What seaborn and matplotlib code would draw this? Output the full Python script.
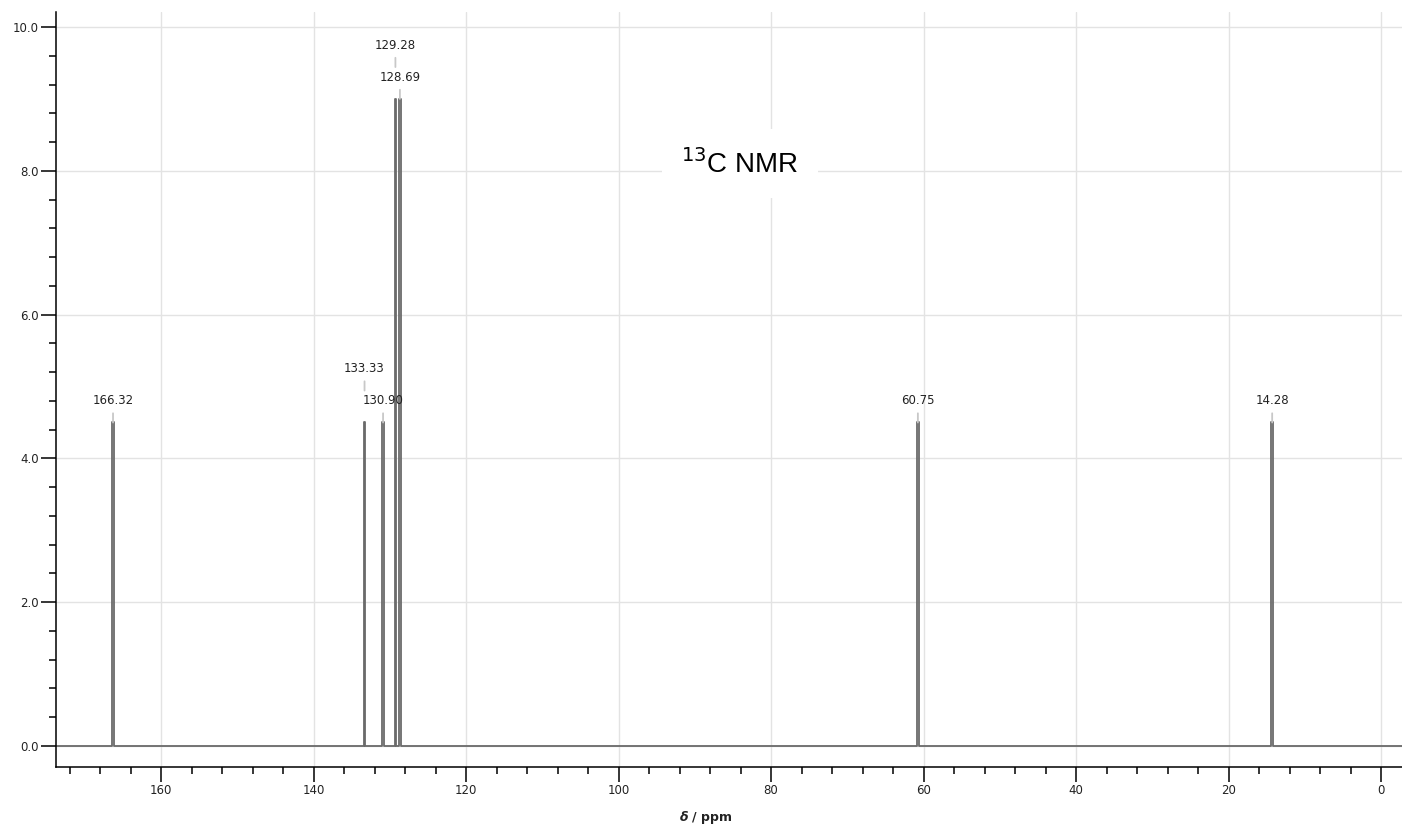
import numpy as np
import pandas as pd
import matplotlib
matplotlib.use("Agg")
import matplotlib.pyplot as plt
from matplotlib.ticker import MultipleLocator, FormatStrFormatter
import seaborn as sns

# ---- data ----
peak_ppm = [166.32, 133.33, 130.90, 129.28, 128.69, 60.75, 14.28]
peak_intensity = [4.5, 4.5, 4.5, 9.0, 9.0, 4.5, 4.5]
peak_labels = ["166.32", "133.33", "130.90", "129.28", "128.69", "60.75", "14.28"]
title_text = r"$^{13}$C NMR"

sns.set_theme(style="white")
plt.rcParams['font.family'] = ['DejaVu Sans']

# build stick-like trace (narrow flat-topped peaks) from the peak list
half_w = 0.12
xs = [175.0]
ys = [0.0]
for p, h in sorted(zip(peak_ppm, peak_intensity), key=lambda t: -t[0]):
    xs += [p + half_w, p + half_w, p - half_w, p - half_w]
    ys += [0.0, h, h, 0.0]
xs.append(-3.0)
ys.append(0.0)
df = pd.DataFrame({"ppm": xs, "I": ys})

fig = plt.figure(figsize=(14.02, 8.27), dpi=100)
ax = fig.add_axes([56/1402, 1-767/827, 1-56/1402, (767-12)/827])

ax.grid(True, which="major", color="#e3e3e3", lw=1.0)
ax.set_axisbelow(True)

sns.lineplot(data=df, x="ppm", y="I", sort=False, estimator=None,
             color="#6a6a6a", lw=1.3, ax=ax)

ax.set_xlim(173.8, -2.75)
ax.set_ylim(-0.292, 10.21)

ax.xaxis.set_major_locator(MultipleLocator(20))
ax.xaxis.set_minor_locator(MultipleLocator(4))
ax.yaxis.set_major_locator(MultipleLocator(2))
ax.yaxis.set_minor_locator(MultipleLocator(0.4))
ax.yaxis.set_major_formatter(FormatStrFormatter("%.1f"))
ax.xaxis.set_major_formatter(FormatStrFormatter("%d"))

for s in ["top", "right"]:
    ax.spines[s].set_visible(False)
for s in ["left", "bottom"]:
    ax.spines[s].set_color("black")
    ax.spines[s].set_linewidth(1.1)

ax.tick_params(axis="both", which="major", length=10.5, width=1.1, color="black",
               labelsize=8.5, labelcolor="#222222", direction="out", pad=2)
ax.tick_params(axis="both", which="minor", length=5, width=1.1, color="black",
               direction="out")
ax.tick_params(axis="x", which="both", bottom=True)
ax.tick_params(axis="y", which="both", left=True)

ax.set_ylabel("")
ax.set_xlabel(r"$\mathbfit{\delta}$ / ppm", fontsize=9, fontweight="bold",
              color="#222222", labelpad=4)
ax.xaxis.set_label_coords((706-56)/1346, -0.055)

# peak labels (text offset above peak top, in points) with short leader lines
offsets = [11, 34, 11, 34, 11, 11, 11]
leader = 9
for p, h, lab, off in zip(peak_ppm, peak_intensity, peak_labels, offsets):
    ax.annotate(lab, xy=(p, h), xytext=(0, off), textcoords="offset points",
                ha="center", va="bottom", fontsize=8.5, color="#222222",
                arrowprops=dict(arrowstyle="-", color="#c8c8c8", lw=1.3,
                                shrinkA=2, shrinkB=max(0, off - 2 - leader)))

ax.text(84.1, 8.1, title_text, ha="center", va="center", fontsize=20,
        family="Liberation Sans", color="black",
        bbox=dict(facecolor="white", edgecolor="none", pad=14))

fig.savefig("out.png", dpi=100)
